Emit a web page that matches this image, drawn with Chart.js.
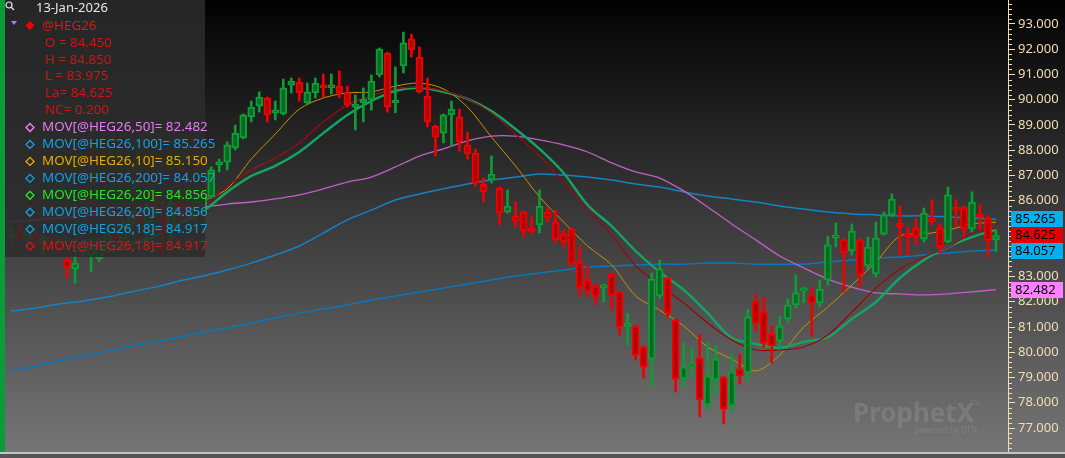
<!DOCTYPE html>
<html><head><meta charset="utf-8">
<script src="https://cdn.jsdelivr.net/npm/chart.js@4.4.1/dist/chart.umd.min.js"></script>
<style>html,body{margin:0;padding:0;background:#000;overflow:hidden}#wrap{width:1065px;height:458px;position:relative}</style>
</head><body><div id="wrap"><canvas id="c" width="1065" height="458"></canvas></div>
<script>
const symbol = '@HEG26';
const lastDate = '13-Jan-2026';

const opens = [84.60,84.80,84.50,84.70,84.30,84.40,84.10,83.65,83.30,83.95,83.85,83.70,84.30,84.70,84.50,85.00,85.40,85.10,85.70,85.75,84.90,85.90,85.80,85.40,85.80,
86.15,87.42,87.53,88.09,88.49,89.32,89.75,90.07,89.48,89.44,90.58,90.70,89.87,90.27,90.54,90.47,90.54,90.27,89.71,89.87,89.99,90.98,91.85,89.87,91.34,
92.41,91.69,90.15,88.96,88.68,89.40,89.32,88.21,87.89,86.66,86.82,86.50,85.55,85.40,85.55,84.92,85.04,85.55,85.16,84.68,84.88,83.57,82.86,82.62,82.54,
83.10,82.39,81.00,81.04,80.21,79.73,82.23,82.94,81.28,78.94,79.42,79.77,77.91,78.90,79.02,77.87,79.34,79.18,82.03,81.59,80.72,80.45,81.32,81.87,82.43,
82.27,81.95,82.86,84.52,84.45,84.01,84.45,83.42,83.10,84.68,85.44,85.12,84.64,84.92,84.49,85.32,84.92,84.37,85.75,85.75,84.88,85.44,85.32,84.45];
const highs = [85.00,85.10,84.90,84.90,84.60,84.70,84.30,83.80,83.80,84.40,84.50,84.50,84.90,85.30,85.20,85.60,85.80,85.90,86.20,86.00,86.40,86.30,86.10,86.20,86.40,
87.34,87.65,88.33,89.00,89.44,89.95,90.31,90.11,89.95,90.82,90.86,90.86,90.66,90.86,91.02,91.02,91.14,90.54,90.19,90.47,90.98,92.05,91.89,91.30,92.68,
92.60,92.09,90.86,89.00,89.44,89.95,89.63,88.72,88.05,86.90,87.77,86.55,86.43,85.95,85.59,85.36,86.43,85.75,85.63,84.84,84.92,84.21,83.42,82.70,82.70,
83.14,82.42,81.55,81.08,80.25,83.14,83.65,82.98,81.32,80.37,80.17,80.72,80.37,80.25,79.06,79.89,79.93,81.71,82.31,82.15,81.04,81.44,82.11,83.06,82.58,
82.54,82.86,84.60,85.12,84.50,85.08,84.50,84.56,85.16,85.55,86.27,85.79,84.96,85.28,85.71,86.03,85.08,86.54,86.03,85.80,86.35,85.83,85.40,84.85];
const lows = [84.30,84.40,84.20,84.10,83.90,84.00,83.90,82.94,82.74,83.85,83.18,83.60,84.10,84.40,84.30,84.70,84.90,84.90,85.30,83.85,84.50,85.40,85.30,85.20,85.60,
86.11,87.14,87.22,88.01,88.45,89.12,89.51,89.12,89.20,89.40,90.27,89.95,89.83,90.07,90.11,90.23,90.07,89.71,88.80,89.12,89.59,90.90,89.51,89.48,91.06,
91.69,90.27,88.92,87.77,88.29,88.17,87.97,87.65,86.58,85.95,86.70,85.04,85.51,84.96,84.56,84.68,84.72,85.16,84.33,84.13,83.38,82.23,82.19,81.87,81.99,
81.67,80.68,80.29,79.69,78.98,78.62,82.11,81.40,78.43,78.58,79.02,77.44,77.71,78.31,77.16,77.63,78.74,78.86,80.84,80.21,79.57,80.13,81.16,81.75,81.95,
80.64,81.79,82.66,84.17,82.39,83.85,82.58,83.26,82.98,84.64,85.36,83.85,83.85,84.25,84.37,85.04,83.93,84.33,84.96,84.56,84.76,84.88,83.77,83.975];
const closes = [84.80,84.50,84.70,84.30,84.40,84.10,83.95,83.34,83.53,84.20,84.30,84.30,84.70,84.50,85.00,85.40,85.10,85.70,85.50,84.72,85.90,85.60,85.60,86.00,86.15,
87.22,87.53,88.21,88.68,89.40,89.71,90.11,89.40,89.59,90.47,90.74,90.27,90.31,90.66,90.47,90.54,90.27,89.79,89.79,90.03,90.74,92.01,89.71,89.99,92.25,
91.97,90.31,89.12,88.52,89.40,89.63,88.33,87.85,86.70,86.35,87.06,85.51,85.79,85.20,84.80,84.80,85.79,85.32,84.45,84.37,83.50,82.54,82.39,82.19,82.58,
82.27,81.00,81.16,79.89,79.42,82.90,83.30,81.55,78.94,79.42,79.50,78.11,79.06,79.73,77.75,79.22,79.06,81.40,81.12,80.37,80.25,81.04,81.87,82.35,82.54,
81.95,82.50,84.25,84.60,83.93,84.80,83.06,84.17,84.52,85.44,86.07,84.96,84.56,84.56,85.51,85.16,84.17,86.23,85.63,84.88,85.95,85.36,84.425,84.625];

// moving averages, one reading every maStep candles
const maStep = 3;
const ma10 = [84.6,84.5,84.3,84.1,84.0,84.3,84.9,85.5,85.99,86.47,87.65,88.64,89.63,90.07,90.27,90.31,90.54,90.66,90.43,89.71,88.52,87.38,86.15,85.16,84.21,83.46,82.23,81.67,81.04,80.21,79.73,79.26,79.89,81.0,81.79,82.66,83.57,84.60,84.68,84.84,85.08,85.15];
const ma18 = [84.7,84.6,84.5,84.4,84.3,84.4,84.8,85.3,85.79,86.58,87.22,87.69,88.29,89.12,89.79,90.15,90.43,90.50,90.35,90.03,89.48,88.64,87.77,86.74,85.63,84.64,83.42,82.66,81.95,81.16,80.49,80.09,80.09,80.21,80.68,81.59,82.54,83.30,83.77,84.17,84.72,84.917];
const ma20 = [84.7,84.6,84.5,84.4,84.3,84.3,84.6,85.1,85.59,86.35,86.98,87.38,87.93,88.68,89.40,89.95,90.35,90.47,90.31,90.03,89.55,88.84,88.05,87.10,85.83,85.0,84.01,83.18,82.47,81.55,80.56,80.33,80.17,80.41,80.60,81.32,81.99,82.94,83.65,84.17,84.56,84.856];
const ma50 = [85.16,85.24,85.32,85.40,85.48,85.55,85.63,85.71,85.75,85.87,85.95,86.07,86.23,86.47,86.74,86.94,87.34,87.77,88.05,88.37,88.56,88.56,88.41,88.21,87.93,87.50,87.14,86.90,86.39,85.75,85.08,84.45,83.81,83.34,82.90,82.58,82.35,82.31,82.27,82.31,82.39,82.482];
const ma100 = [81.63,81.75,81.91,82.03,82.19,82.39,82.58,82.82,83.02,83.26,83.53,83.85,84.21,84.72,85.24,85.63,86.03,86.27,86.47,86.66,86.82,86.94,87.06,87.02,86.94,86.82,86.66,86.54,86.35,86.19,86.07,85.95,85.79,85.67,85.55,85.48,85.44,85.40,85.40,85.36,85.32,85.265];
const ma200 = [79.22,79.45,79.65,79.85,80.05,80.25,80.41,80.60,80.80,80.96,81.16,81.36,81.55,81.71,81.87,82.07,82.23,82.39,82.54,82.70,82.86,83.02,83.14,83.26,83.38,83.42,83.46,83.49,83.49,83.53,83.53,83.49,83.49,83.49,83.57,83.65,83.73,83.77,83.85,83.93,84.01,84.057];

const yRange = {min: 76.05, max: 93.95, step: 1, minor: 0.2};

const UP_EDGE = '#0e9c36', UP_FILL = '#066b22', DN_EDGE = '#f00000', DN_FILL = '#b40000';
const isUp = closes.map((c,i)=> c >= opens[i]);
const toPts = arr => arr.map((v,i)=>({x: Math.min(i*maStep, closes.length-1), y: v}));
const lineDs = (arr, color, w, order) => ({type:'line', data: toPts(arr), borderColor: color, borderWidth: w, pointRadius: 0, tension: 0.3, order: order, fill: false});

const n = closes.length;
const nc = closes[n-1] - closes[n-2];

const BLUE_T = '#12a2e6';
const legendRows = [
  ['MOV['+symbol+',50]', ma50, '#ff80ff', '#e27ef0'],
  ['MOV['+symbol+',100]', ma100, BLUE_T, BLUE_T],
  ['MOV['+symbol+',10]', ma10, '#f2b000', '#e6aa00'],
  ['MOV['+symbol+',200]', ma200, BLUE_T, BLUE_T],
  ['MOV['+symbol+',20]', ma20, '#22f022', '#22e822'],
  ['MOV['+symbol+',20]', ma20, BLUE_T, BLUE_T],
  ['MOV['+symbol+',18]', ma18, BLUE_T, BLUE_T],
  ['MOV['+symbol+',18]', ma18, '#e81010', '#e01414']
];
const ohlcRows = [
  ['O = ', opens[n-1]], ['H = ', highs[n-1]], ['L = ', lows[n-1]], ['La= ', closes[n-1]], ['NC= ', nc]
];
const sideBoxes = [
  [ma100[ma100.length-1], '#00b0f0'],
  [closes[n-1], '#e80000'],
  [ma200[ma200.length-1], '#00b0f0'],
  [ma50[ma50.length-1], '#ff80ff']
];

const FONT = '"Noto Sans", "DejaVu Sans", sans-serif';
const AXIS_C = '#f2deb4';

const deco = {
  id: 'deco',
  beforeDraw(chart){
    const ctx = chart.ctx;
    ctx.save();
    const g = ctx.createLinearGradient(0,0,0,452);
    g.addColorStop(0,'#020202'); g.addColorStop(1,'#757575');
    ctx.fillStyle = g; ctx.fillRect(0,0,chart.width,chart.height);
    ctx.restore();
  },
  afterDraw(chart){
    const ctx = chart.ctx, y = chart.scales.y, ca = chart.chartArea;
    ctx.save();
    // minor ticks
    ctx.strokeStyle = AXIS_C; ctx.lineWidth = 1;
    const k0 = Math.ceil(y.min/yRange.minor), k1 = Math.floor(y.max/yRange.minor);
    for (let k=k0; k<=k1; k++){
      if (k % 5 === 0) continue;
      const py = Math.round(y.getPixelForValue(k*yRange.minor)) + 0.5;
      ctx.beginPath(); ctx.moveTo(ca.right, py); ctx.lineTo(ca.right+4, py); ctx.stroke();
    }
    // side value boxes
    const boxes = sideBoxes.map(b=>({v:b[0], c:b[1], py:y.getPixelForValue(b[0])})).sort((a,b)=>a.py-b.py);
    let lastBottom = -1e9;
    ctx.font = '13px '+FONT; ctx.textBaseline = 'middle'; ctx.textAlign = 'left';
    boxes.forEach(b=>{
      let top = Math.round(b.py - 8);
      if (top < lastBottom) top = lastBottom;
      ctx.fillStyle = b.c; ctx.fillRect(ca.right+3, top, 52, 16);
      ctx.fillStyle = '#000'; ctx.fillText(b.v.toFixed(3), ca.right+7, top+8.5);
      lastBottom = top + 16;
    });
    // left green strip
    ctx.fillStyle = '#0a9c3a'; ctx.fillRect(0,0,5,452);
    // legend panel
    ctx.fillStyle = 'rgba(44,44,44,0.86)'; ctx.fillRect(5,0,200,257);
    // magnifier icon
    ctx.strokeStyle = '#e8e8e8'; ctx.lineWidth = 1.2;
    ctx.beginPath(); ctx.arc(9,5,3,0,Math.PI*2); ctx.stroke();
    ctx.beginPath(); ctx.moveTo(11.5,7.5); ctx.lineTo(14,10); ctx.stroke();
    ctx.font = '13px '+FONT; ctx.fillStyle = '#e6e6e6';
    ctx.fillText(lastDate, 36, 8.5);
    // triangle + diamond + symbol
    ctx.fillStyle = '#8c8cff';
    ctx.beginPath(); ctx.moveTo(11,21); ctx.lineTo(17,21); ctx.lineTo(14,25); ctx.closePath(); ctx.fill();
    ctx.fillStyle = '#f00000';
    ctx.beginPath(); ctx.moveTo(30,21); ctx.lineTo(34.5,25.5); ctx.lineTo(30,30); ctx.lineTo(25.5,25.5); ctx.closePath(); ctx.fill();
    ctx.font = '13.4px '+FONT;
    ctx.fillStyle = '#e01818';
    ctx.fillText(symbol, 42, 26);
    ctx.fillStyle = '#d01414';
    ohlcRows.forEach((r,i)=>{ ctx.fillText(r[0] + r[1].toFixed(3), 45, 43 + i*16.8); });
    legendRows.forEach((r,i)=>{
      const cy = 127.5 + i*16.95;
      ctx.strokeStyle = r[2]; ctx.lineWidth = 1.3;
      ctx.beginPath(); ctx.moveTo(30,cy-4); ctx.lineTo(34,cy); ctx.lineTo(30,cy+4); ctx.lineTo(26,cy); ctx.closePath(); ctx.stroke();
      ctx.fillStyle = r[3];
      ctx.fillText(r[0] + '= ' + r[1][r[1].length-1].toFixed(3), 42, cy);
    });
    // watermark
    ctx.fillStyle = 'rgba(255,255,255,0.11)';
    ctx.font = 'bold 26px '+FONT; ctx.textBaseline = 'alphabetic';
    ctx.fillText('ProphetX', 853, 422);
    ctx.font = '7px '+FONT; ctx.fillText('TM', 970, 405);
    ctx.font = '8px '+FONT; ctx.fillText('powered by DTN', 915, 433);
    // bottom strip
    ctx.fillStyle = '#c4c4c4'; ctx.fillRect(0,452,chart.width,2);
    ctx.fillStyle = '#555555'; ctx.fillRect(0,454,chart.width,4);
    ctx.restore();
  }
};

new Chart(document.getElementById('c'), {
  type: 'bar',
  data: {
    datasets: [
      {type:'bar', data: closes.map((c,i)=>({x:i, y:[opens[i], c]})),
        backgroundColor: isUp.map(u=>u?UP_FILL:DN_FILL), borderColor: isUp.map(u=>u?UP_EDGE:DN_EDGE),
        borderWidth: 2, borderSkipped: false, barThickness: 7, minBarLength: 3, grouped: false, order: 1},
      {type:'bar', data: lows.map((l,i)=>({x:i, y:[l, highs[i]]})),
        backgroundColor: isUp.map(u=>u?UP_EDGE:DN_EDGE), borderWidth: 0, barThickness: 2, grouped: false, order: 2},
      lineDs(ma200, '#0a76bc', 1.5, 20),
      lineDs(ma100, '#1482c4', 1.5, 19),
      lineDs(ma50, '#c060c8', 1.3, 18),
      lineDs(ma10, '#c89400', 1, 17),
      lineDs(ma20, '#1890c0', 2.4, 16),
      lineDs(ma20, '#12b02a', 1.5, 15),
      lineDs(ma18, '#1890c0', 1, 14),
      lineDs(ma18, '#a00000', 1.2, 13)
    ]
  },
  options: {
    responsive: false, animation: false,
    layout: {padding: {left: 7, right: 0, top: 0, bottom: 6}},
    plugins: {legend: {display: false}, tooltip: {enabled: false}},
    scales: {
      x: {type: 'linear', min: -0.5, max: n + 0.5, offset: false, display: false},
      y: {
        position: 'right', min: yRange.min, max: yRange.max,
        afterFit(s){ s.width = 57; s.paddingTop = 0; s.paddingBottom = 0; },
        border: {display: true, color: AXIS_C, width: 1},
        grid: {drawOnChartArea: false, drawTicks: true, tickLength: 7, tickColor: AXIS_C},
        ticks: {stepSize: yRange.step, includeBounds: false, color: AXIS_C, padding: 3,
          font: {family: FONT, size: 13}, callback: v => Number(v).toFixed(3)}
      }
    }
  },
  plugins: [deco]
});
</script></body></html>
